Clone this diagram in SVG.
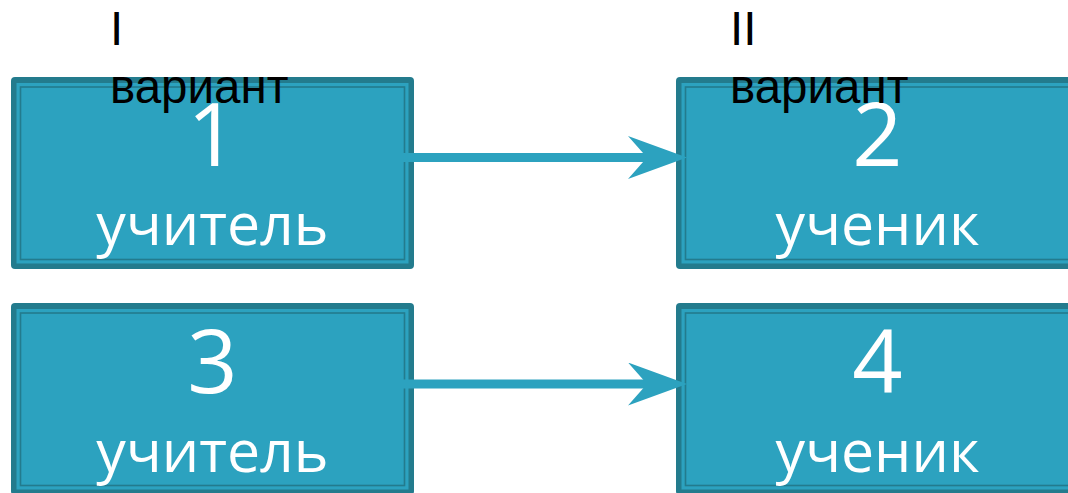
<svg xmlns="http://www.w3.org/2000/svg" width="1068" height="493" viewBox="0 0 1068 493">
<defs>
<style>
.outer{fill:#237b8d}
.fill{fill:#2ca2bf}
.inner{fill:none;stroke:#237b8d;stroke-width:1.6}
.num{font-family:"Open Sans",sans-serif;font-size:88px;fill:#ffffff;text-anchor:middle}
.word{font-family:"Open Sans",sans-serif;font-size:59px;fill:#ffffff;text-anchor:middle}
.lbl{font-family:"Liberation Sans",Arial,sans-serif;font-size:47.5px;fill:#000000}
.conn{stroke:#2ca2bf;stroke-width:9;fill:none}
</style>
<marker id="ah" viewBox="0 0 59 43" refX="22" refY="21.5" markerWidth="59" markerHeight="43" markerUnits="userSpaceOnUse" orient="auto">
<path d="M0,0 L59,21.5 L0,43 L19,21.5 Z" fill="#2ca2bf"/>
</marker>
</defs>
<rect width="1068" height="493" fill="#ffffff"/>
<g id="node1">
<rect class="outer" x="11" y="77" width="403" height="192" rx="4"/>
<rect class="fill" x="16.5" y="83" width="392" height="180.5"/>
<rect class="inner" x="20.5" y="87" width="384" height="172.5"/>
<text class="num" x="212.5" y="166">1</text>
<text class="word" x="212.5" y="245">учитель</text>
</g>
<g id="node2">
<rect class="outer" x="676" y="77" width="403" height="192" rx="4"/>
<rect class="fill" x="681.5" y="83" width="392" height="180.5"/>
<rect class="inner" x="685.5" y="87" width="384" height="172.5"/>
<text class="num" x="877.5" y="166">2</text>
<text class="word" x="877.5" y="245">ученик</text>
</g>
<g id="node3">
<rect class="outer" x="11" y="303" width="403" height="192" rx="4"/>
<rect class="fill" x="16.5" y="309" width="392" height="180.5"/>
<rect class="inner" x="20.5" y="313" width="384" height="172.5"/>
<text class="num" x="212.5" y="393">3</text>
<text class="word" x="212.5" y="472">учитель</text>
</g>
<g id="node4">
<rect class="outer" x="676" y="303" width="403" height="192" rx="4"/>
<rect class="fill" x="681.5" y="309" width="392" height="180.5"/>
<rect class="inner" x="685.5" y="313" width="384" height="172.5"/>
<text class="num" x="877.5" y="393">4</text>
<text class="word" x="877.5" y="472">ученик</text>
</g>
<g id="connectors">
<line class="conn" x1="403" y1="157.5" x2="650" y2="157.5" marker-end="url(#ah)"/>
<line class="conn" x1="403" y1="384" x2="650" y2="384" marker-end="url(#ah)"/>
</g>
<g id="labels">
<text class="lbl" x="110" y="45">I</text>
<text class="lbl" x="110" y="103">вариант</text>
<text class="lbl" x="730" y="45">II</text>
<text class="lbl" x="730" y="103">вариант</text>
</g>
</svg>
